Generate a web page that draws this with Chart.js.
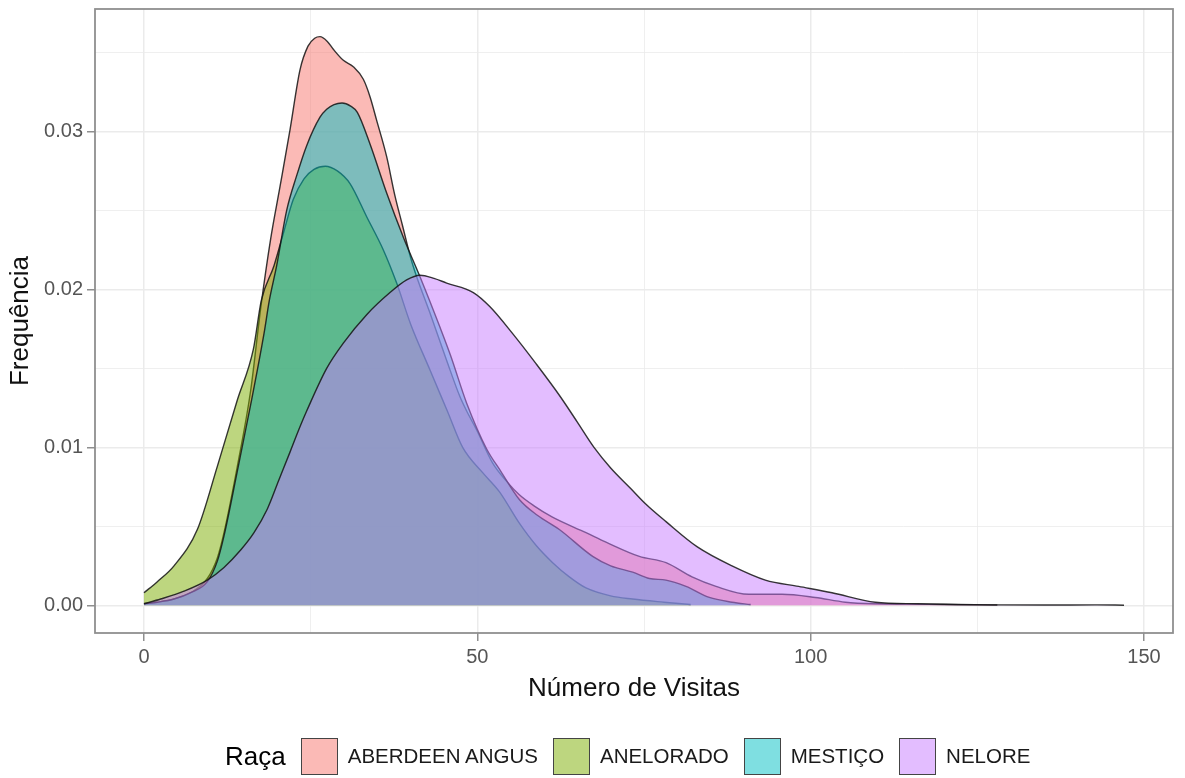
<!DOCTYPE html>
<html>
<head>
<meta charset="utf-8">
<script src="https://cdn.jsdelivr.net/npm/chart.js@4.4.1/dist/chart.umd.min.js"></script>
<style>
  html, body { margin: 0; padding: 0; background: #fff; }
  #wrap { position: relative; width: 1185px; height: 778px; }
  #legend {
    position: absolute; left: 225px; top: 737px; height: 38px;
    display: flex; align-items: center;
    font-family: "Liberation Sans", Arial, sans-serif; color: #000;
  }
  #legend .title { font-size: 26px; margin-right: 15px; }
  #legend .key { width: 35px; height: 35px; border: 1.5px solid #444; box-sizing: content-box; }
  #legend .lab { font-size: 20.5px; margin-left: 10px; margin-right: 15px; color: #1a1a1a; }
</style>
</head>
<body>
<div id="wrap">
  <canvas id="chart" width="1185" height="778"></canvas>
  <div id="legend"></div>
</div>
<script>
// categorias (raças) e cores ggplot
const racas = ['ABERDEEN ANGUS', 'ANELORADO', 'MESTIÇO', 'NELORE'];
const cores = ['248,118,109', '124,174,0', '0,191,196', '199,124,255'];

// densidades (x = número de visitas, y = frequência)
const angusX = [0, 2, 4.5, 7, 9.5, 11, 12, 14, 16, 17.5, 19, 20.4, 21.9, 23.4, 24.6, 25.6, 26.4, 27.5, 28.4, 29.9, 31.4, 32.9, 33.9, 34.9, 36.4, 37.6, 38.8, 40, 40.9, 42.9, 45.4, 47.4, 48.4, 49.9, 52.3, 54.5, 56.3, 58.5, 61.2, 66.3, 69.3, 74.3, 78.3, 82.2, 85.8, 90.7, 95.7, 100.7, 105.2, 110, 115, 120, 128];
const angusY = [0.0001, 0.0002, 0.0004, 0.0008, 0.0017, 0.0030, 0.0046, 0.0088, 0.0136, 0.0188, 0.0232, 0.0265, 0.0301, 0.0339, 0.0354, 0.0359, 0.0360, 0.0357, 0.0352, 0.0345, 0.0341, 0.0333, 0.0322, 0.0307, 0.0284, 0.0260, 0.0240, 0.0220, 0.0208, 0.0185, 0.0155, 0.0132, 0.0123, 0.0111, 0.0090, 0.0078, 0.0070, 0.0063, 0.0056, 0.0046, 0.0040, 0.0031, 0.0027, 0.0018, 0.0012, 0.0007, 0.0007, 0.0005, 0.0002, 0.0001, 0.00008, 0.00005, 0.00002];

const aneloX = [0, 2, 4.5, 8, 11, 14, 16.4, 17.6, 19.5, 21, 22.4, 24, 25.5, 27.2, 29, 30.9, 33.4, 35.9, 37.9, 40, 42.9, 45.5, 47.8, 50.8, 53.3, 56.3, 58.8, 61.3, 63.8, 66.3, 70, 73.3, 78, 82];
const aneloY = [0.0008, 0.0015, 0.0025, 0.0048, 0.0088, 0.0130, 0.0162, 0.0193, 0.0215, 0.0237, 0.0257, 0.0270, 0.0276, 0.0278, 0.0275, 0.0267, 0.0246, 0.0225, 0.0204, 0.0178, 0.0149, 0.0123, 0.0100, 0.0084, 0.0072, 0.0052, 0.0038, 0.0027, 0.0018, 0.0011, 0.0006, 0.0004, 0.0002, 0.00005];

const mestX = [0, 2, 4.5, 7, 9.5, 11, 12, 14, 16, 18, 18.8, 19.9, 21.4, 22.9, 24.4, 26.4, 27.4, 28.5, 29.7, 31, 32, 33.9, 36.4, 38.9, 41.4, 44.4, 46, 48.4, 51.4, 53.5, 56.3, 59, 62.3, 67.3, 70, 73.3, 75.8, 78.3, 81.3, 84.8, 88.2, 91];
const mestY = [0.0001, 0.0002, 0.0004, 0.0008, 0.0015, 0.0028, 0.0044, 0.0085, 0.0127, 0.0172, 0.0193, 0.0215, 0.0250, 0.0272, 0.0291, 0.0309, 0.0314, 0.0317, 0.0318, 0.0316, 0.0312, 0.0292, 0.0261, 0.0233, 0.0208, 0.0176, 0.0158, 0.0128, 0.0099, 0.0085, 0.0067, 0.0057, 0.0048, 0.0031, 0.0025, 0.0021, 0.0017, 0.0016, 0.0012, 0.0005, 0.0002, 0.00005];

const neloreX = [0, 2.5, 6, 9.5, 12, 14.5, 16.5, 18.5, 20.2, 21.9, 23.2, 24.4, 27.4, 29.9, 33.4, 36.9, 39.4, 41.4, 43.5, 45.4, 49.4, 51.9, 55.3, 58.8, 62.3, 65, 67.5, 70, 73, 75.3, 78.3, 83, 88.2, 93.2, 98.2, 103.2, 109.7, 116, 122, 128, 135, 143, 147];
const neloreY = [0.0001, 0.0004, 0.0009, 0.0016, 0.0024, 0.0035, 0.0046, 0.0061, 0.0079, 0.0097, 0.0111, 0.0123, 0.0150, 0.0166, 0.0184, 0.0198, 0.0206, 0.0209, 0.0207, 0.0204, 0.0198, 0.0189, 0.0172, 0.0153, 0.0133, 0.0116, 0.0100, 0.0087, 0.0074, 0.0064, 0.0053, 0.0037, 0.0025, 0.0016, 0.0012, 0.0008, 0.0002, 0.0001, 0.00005, 0.00003, 0.00002, 0.00003, 0.00001];

// eixos
const xMajor = [0, 50, 100, 150];
const xMinor = [25, 75, 125];
const xLabels = ['0', '50', '100', '150'];
const yMajor = [0, 0.01, 0.02, 0.03];
const yMinor = [0.005, 0.015, 0.025, 0.035];
const yLabels = ['0.00', '0.01', '0.02', '0.03'];

const seriesX = [angusX, aneloX, mestX, neloreX];
const seriesY = [angusY, aneloY, mestY, neloreY];

const fontFam = '"Liberation Sans", Arial, sans-serif';
const gridCol = '#EBEBEB';
const axisCol = '#8f8f8f';

const datasets = racas.map((nome, i) => ({
  label: nome,
  data: seriesX[i].map((x, k) => ({ x: x, y: seriesY[i][k] })),
  backgroundColor: 'rgba(' + cores[i] + ',0.5)',
  borderColor: 'rgba(20,20,20,0.85)',
  borderWidth: 1.4,
  fill: 'origin',
  pointRadius: 0,
  cubicInterpolationMode: 'monotone',
  order: racas.length - 1 - i   // ABERDEEN embaixo, NELORE por cima
}));

const isMajor = (list, v) => list.some(m => Math.abs(m - v) < 1e-9);

// moldura do painel (theme_bw)
const panelBorder = {
  id: 'panelBorder',
  afterDraw(chart) {
    const a = chart.chartArea, c = chart.ctx;
    c.save();
    c.strokeStyle = axisCol;
    c.lineWidth = 1.8;
    c.strokeRect(a.left, a.top, a.right - a.left, a.bottom - a.top);
    c.restore();
  }
};

new Chart(document.getElementById('chart'), {
  type: 'line',
  data: { datasets: datasets },
  options: {
    responsive: false,
    animation: false,
    layout: { padding: { top: 9, right: 12, left: 0, bottom: 0 } },
    plugins: { legend: { display: false }, tooltip: { enabled: false } },
    scales: {
      x: {
        type: 'linear',
        min: -7.35,
        max: 154.35,
        afterBuildTicks: s => { s.ticks = xMajor.concat(xMinor).sort((a, b) => a - b).map(v => ({ value: v })); },
        afterFit: s => { s.height = 145; s.paddingLeft = 0; s.paddingRight = 0; },
        ticks: {
          autoSkip: false, maxRotation: 0, padding: 4,
          color: '#555', font: { family: fontFam, size: 20 },
          callback: v => { const k = xMajor.indexOf(v); return k >= 0 ? xLabels[k] : ''; }
        },
        grid: {
          color: gridCol,
          lineWidth: c => isMajor(xMajor, c.tick.value) ? 1.5 : 0.8,
          tickLength: 8,
          tickColor: c => isMajor(xMajor, c.tick.value) ? axisCol : 'rgba(0,0,0,0)',
          tickWidth: 1.5
        },
        border: { display: false },
        title: {
          display: true, text: 'Número de Visitas', color: '#111',
          font: { family: fontFam, size: 26 }, padding: { top: 0, bottom: 74 }
        }
      },
      y: {
        type: 'linear',
        min: -0.00175,
        max: 0.03775,
        afterBuildTicks: s => { s.ticks = yMajor.concat(yMinor).sort((a, b) => a - b).map(v => ({ value: v })); },
        afterFit: s => { s.width = 95; s.paddingTop = 0; s.paddingBottom = 0; },
        ticks: {
          autoSkip: false, padding: 4,
          color: '#555', font: { family: fontFam, size: 20 },
          callback: v => { const k = yMajor.findIndex(m => Math.abs(m - v) < 1e-9); return k >= 0 ? yLabels[k] : ''; }
        },
        grid: {
          color: gridCol,
          lineWidth: c => isMajor(yMajor, c.tick.value) ? 1.5 : 0.8,
          tickLength: 8,
          tickColor: c => isMajor(yMajor, c.tick.value) ? axisCol : 'rgba(0,0,0,0)',
          tickWidth: 1.5
        },
        border: { display: false },
        title: {
          display: true, text: 'Frequência', color: '#111',
          font: { family: fontFam, size: 26 }, padding: { top: 5, bottom: 0 }
        }
      }
    }
  },
  plugins: [panelBorder]
});

// legenda embaixo: "Raça" + chaves
const leg = document.getElementById('legend');
leg.innerHTML = '<span class="title">Raça</span>' + racas.map((r, i) =>
  '<span class="key" style="background:rgba(' + cores[i] + ',0.5)"></span><span class="lab">' + r + '</span>'
).join('');
</script>
</body>
</html>
